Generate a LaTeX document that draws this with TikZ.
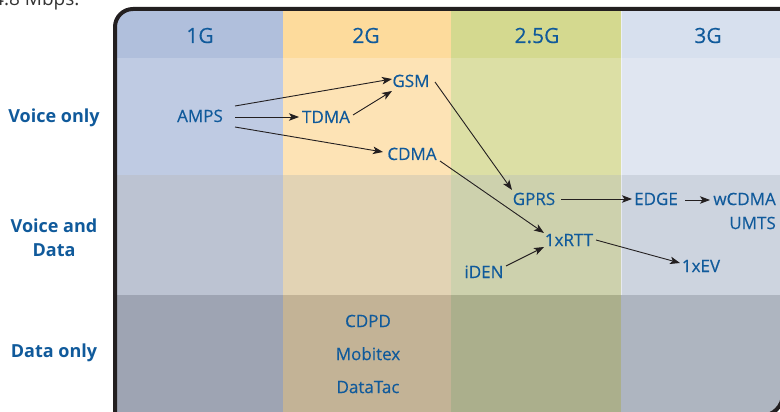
\documentclass[tikz,border=0pt]{standalone}
\usepackage{fontspec}
\setmainfont{Open Sans}
\newfontfamily\tfont[FakeBold=0.35]{Open Sans}
\usetikzlibrary{arrows.meta}
\definecolor{txt}{RGB}{16,90,155}
\definecolor{ink}{RGB}{35,31,32}
\definecolor{hA}{HTML}{B0BFDC}\definecolor{vA}{HTML}{BFCBE3}\definecolor{dA}{HTML}{BCC3D2}\definecolor{oA}{HTML}{9EA4B3}
\definecolor{hB}{HTML}{FDDB9C}\definecolor{vB}{HTML}{FDE3B5}\definecolor{dB}{HTML}{E2D3B4}\definecolor{oB}{HTML}{C3B396}
\definecolor{hC}{HTML}{D4D98F}\definecolor{vC}{HTML}{DCDFA5}\definecolor{dC}{HTML}{CDD1AD}\definecolor{oC}{HTML}{ABAF8C}
\definecolor{hD}{HTML}{D7E0EE}\definecolor{vD}{HTML}{E0E6F1}\definecolor{dD}{HTML}{CDD4DF}\definecolor{oD}{HTML}{AEB5C0}
\begin{document}
\begin{tikzpicture}[x=1pt,y=-1pt,
  lbl/.style={text=txt, font=\tfont\fontsize{17}{20}\selectfont, inner sep=0pt, anchor=base},
  hdr/.style={text=txt, font=\tfont\fontsize{21}{24}\selectfont, inner sep=0pt, anchor=base},
  rowlbl/.style={text=txt, font=\bfseries\fontsize{18}{24}\selectfont, align=center, inner sep=0pt},
  arr/.style={draw=ink, line width=0.9pt, -{Stealth[length=10pt,width=7.5pt,inset=2.5pt]}}]
\useasboundingbox (0,0) rectangle (780,412);
\def\framepath{(115,440) -- (115,27) .. controls (115,17.06) and (123.06,9) .. (133,9) -- (783,9) -- (783,394) .. controls (783,406.15) and (773.15,416) .. (761,416) -- (115,416) -- cycle}
% partial caption text at top
\node[anchor=base west, inner sep=0pt, text=black!80, font=\fontsize{19}{22}\selectfont] (cap) at (-7,6) {4.8 Mbps.};
% cells
\begin{scope}
\clip \framepath;
\fill[hA] (115,0) rectangle (283,58);
\fill[hB] (283,0) rectangle (451,58);
\fill[hC] (451,0) rectangle (621,58);
\fill[hD] (621,0) rectangle (790,58);
\fill[vA] (115,58) rectangle (283,175);
\fill[vB] (283,58) rectangle (451,175);
\fill[vC] (451,58) rectangle (621,175);
\fill[vD] (621,58) rectangle (790,175);
\fill[dA] (115,175) rectangle (283,295);
\fill[dB] (283,175) rectangle (451,295);
\fill[dC] (451,175) rectangle (621,295);
\fill[dD] (621,175) rectangle (790,295);
\fill[oA] (115,295) rectangle (283,440);
\fill[oB] (283,295) rectangle (451,440);
\fill[oC] (451,295) rectangle (621,440);
\fill[oD] (621,295) rectangle (790,440);
\draw[white, opacity=0.5, line width=0.8pt] (621,9) -- (621,295);
\end{scope}
\draw[ink, line width=4pt] \framepath;
% headers
\node[hdr] (g1) at (200,43) {1G};
\node[hdr] (g2) at (366,43) {2G};
\node[hdr] (g25) at (537,43) {2.5G};
\node[hdr] (g3) at (708,43) {3G};
% row labels
\node[rowlbl, anchor=base] (r1) at (54,123) {Voice only};
\node[rowlbl] (r2) at (54,238) {Voice and\\Data};
\node[rowlbl, anchor=base] (r3) at (54,357) {Data only};
% technologies
\node[lbl] (amps) at (200,122) {AMPS};
\node[lbl] (tdma) at (326,123) {TDMA};
\node[lbl] (gsm) at (411,87) {GSM};
\node[lbl] (cdma) at (412,160) {CDMA};
\node[lbl] (gprs) at (534,205) {GPRS};
\node[lbl] (edge) at (656,205) {EDGE};
\node[lbl, anchor=east, align=right, font=\tfont\fontsize{17}{24}\selectfont] (wcdma) at (776,211) {wCDMA\\UMTS};
\node[lbl] (rtt) at (569,246) {1xRTT};
\node[lbl] (iden) at (484,278) {iDEN};
\node[lbl] (ev) at (701,272) {1xEV};
\node[lbl, anchor=center, align=center, font=\tfont\fontsize{17}{33}\selectfont] (data) at (368,354) {CDPD\\Mobitex\\DataTac};
% connectors
\draw[arr] ([shift={(35,-16)}]amps.base) -- ([shift={(-19,-8)}]gsm.base);
\draw[arr] ([shift={(35,-5)}]amps.base) -- ([shift={(-27,-6)}]tdma.base);
\draw[arr] ([shift={(35,5)}]amps.base) -- ([shift={(-29,-8)}]cdma.base);
\draw[arr] ([shift={(27,-8)}]tdma.base) -- ([shift={(-19,4)}]gsm.base);
\draw[arr] ([shift={(24,-5)}]gsm.base) -- ([shift={(-22,-15)}]gprs.base);
\draw[arr] ([shift={(28,1)}]cdma.base) -- ([shift={(-25,-13)}]rtt.base);
\draw[arr] ([shift={(27,-6)}]gprs.base) -- ([shift={(-24,-6)}]edge.base);
\draw[arr] ([shift={(29,-5)}]edge.base) -- ([shift={(-66,-11)}]wcdma.east);
\draw[arr] ([shift={(22,-12)}]iden.base) -- ([shift={(-25,1)}]rtt.base);
\draw[arr] ([shift={(27,-6)}]rtt.base) -- ([shift={(-21,-9)}]ev.base);
\end{tikzpicture}
\end{document}
